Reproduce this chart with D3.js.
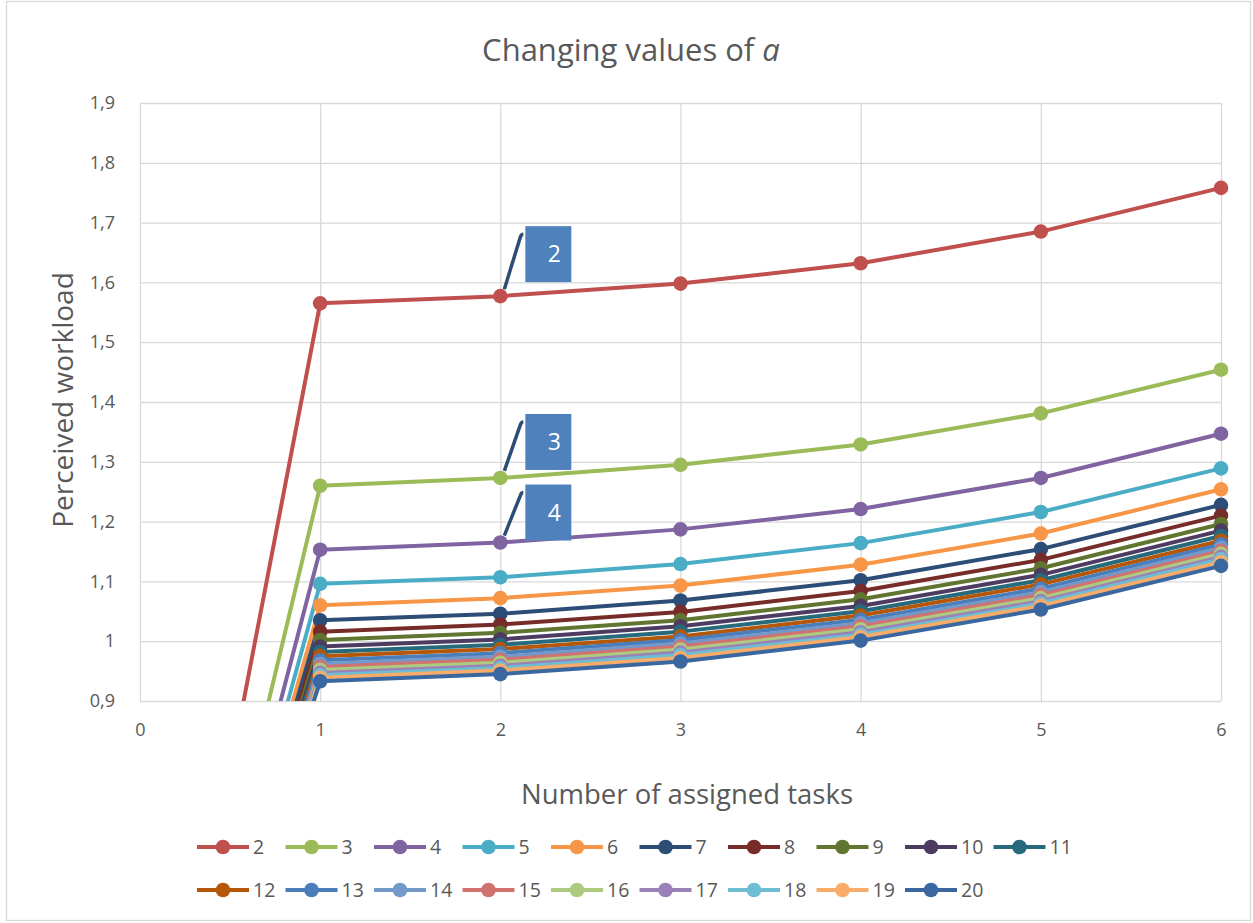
<!DOCTYPE html>
<html>
<head>
<meta charset="utf-8">
<script src="https://cdn.jsdelivr.net/npm/d3@7"></script>
<style>
  body { margin: 0; background: #ffffff; }
  svg text { font-family: "Open Sans", "Noto Sans", sans-serif; }
</style>
</head>
<body>
<svg id="chart" width="1253" height="923"></svg>
<script>
// Number of assigned tasks (x) and perceived workload per value of a
const tasks = [0, 1, 2, 3, 4, 5, 6];
const alphaValues = [2, 3, 4, 5, 6, 7, 8, 9, 10, 11, 12, 13, 14, 15, 16, 17, 18, 19, 20];

const workloadA2  = [0, 1.565, 1.577, 1.598, 1.632, 1.685, 1.758];
const workloadA3  = [0, 1.260, 1.273, 1.295, 1.329, 1.381, 1.454];
const workloadA4  = [0, 1.153, 1.165, 1.187, 1.221, 1.273, 1.347];
const workloadA5  = [0, 1.096, 1.107, 1.129, 1.164, 1.216, 1.289];
const workloadA6  = [0, 1.060, 1.072, 1.093, 1.128, 1.180, 1.254];
const workloadA7  = [0, 1.035, 1.046, 1.068, 1.102, 1.154, 1.228];
const workloadA8  = [0, 1.016, 1.028, 1.049, 1.084, 1.136, 1.210];
const workloadA9  = [0, 1.002, 1.014, 1.035, 1.070, 1.122, 1.196];
const workloadA10 = [0, 0.991, 1.003, 1.025, 1.059, 1.111, 1.185];
const workloadA11 = [0, 0.982, 0.994, 1.016, 1.050, 1.102, 1.176];
const workloadA12 = [0, 0.975, 0.987, 1.008, 1.043, 1.095, 1.168];
const workloadA13 = [0, 0.968, 0.980, 1.002, 1.036, 1.088, 1.162];
const workloadA14 = [0, 0.962, 0.974, 0.996, 1.030, 1.082, 1.156];
const workloadA15 = [0, 0.957, 0.969, 0.991, 1.025, 1.077, 1.151];
const workloadA16 = [0, 0.952, 0.964, 0.986, 1.020, 1.072, 1.146];
const workloadA17 = [0, 0.947, 0.959, 0.981, 1.015, 1.067, 1.141];
const workloadA18 = [0, 0.943, 0.955, 0.977, 1.011, 1.063, 1.137];
const workloadA19 = [0, 0.939, 0.951, 0.972, 1.007, 1.059, 1.132];
const workloadA20 = [0, 0.933, 0.945, 0.966, 1.001, 1.053, 1.126];

const workloadSeries = [
  workloadA2, workloadA3, workloadA4, workloadA5, workloadA6, workloadA7,
  workloadA8, workloadA9, workloadA10, workloadA11, workloadA12, workloadA13,
  workloadA14, workloadA15, workloadA16, workloadA17, workloadA18, workloadA19, workloadA20
];

const seriesColors = [
  "#C0504D", "#9BBB59", "#8064A2", "#4BACC6", "#F79646", "#2C4D75",
  "#772C2A", "#5F7530", "#4D3B62", "#276A7C", "#B65708", "#4A7EBB",
  "#7399CB", "#D07370", "#AECA7E", "#9A82B8", "#6FBDD3", "#F9AB6A", "#3A679F"
];

const xTickValues = [0, 1, 2, 3, 4, 5, 6];
const yTickValues = [0.9, 1.0, 1.1, 1.2, 1.3, 1.4, 1.5, 1.6, 1.7, 1.8, 1.9];

// Data labels shown at x = 2 for the three top series
const labeledAlphas = [2, 3, 4];
const labelTask = 2;

const title = "Changing values of ";
const xTitle = "Number of assigned tasks";
const yTitle = "Perceived workload";

// ---------------------------------------------------------------
const svg = d3.select("#chart");
const W = 1253, H = 923;
const plot = { left: 140, right: 1221, top: 103, bottom: 701 };
const textColor = "#595959";
const gridColor = "#D9D9D9";

const locale = d3.formatLocale({ decimal: ",", thousands: ".", grouping: [3], currency: ["", "€"] });
const fmt = locale.format(".1~f");

const x = d3.scaleLinear().domain([0, 6]).range([plot.left, plot.right]);
const y = d3.scaleLinear().domain([0.9, 1.9]).range([plot.bottom, plot.top]);

// chart frame
svg.append("rect")
  .attr("x", 6.5).attr("y", 1.5).attr("width", W - 9).attr("height", H - 4)
  .attr("fill", "#fff").attr("stroke", gridColor).attr("stroke-width", 1.3);

// title
svg.append("text")
  .attr("x", 631).attr("y", 61)
  .attr("text-anchor", "middle")
  .attr("fill", textColor)
  .attr("font-size", 31)
  .text(title)
  .append("tspan").attr("font-style", "italic").text("a");

// horizontal gridlines
const yAxis = d3.axisLeft(y).tickValues(yTickValues).tickSize(-(plot.right - plot.left)).tickFormat(fmt).tickPadding(25);
const gy = svg.append("g").attr("transform", `translate(${plot.left},0)`).call(yAxis);
gy.select(".domain").remove();
gy.selectAll("line").attr("stroke", gridColor).attr("stroke-width", 1.3);
gy.selectAll("text").attr("fill", textColor).attr("font-size", 18).attr("font-family", "\"Open Sans\", sans-serif");

// vertical gridlines
const xAxis = d3.axisBottom(x).tickValues(xTickValues).tickSize(-(plot.bottom - plot.top)).tickFormat(d3.format("d")).tickPadding(22);
const gx = svg.append("g").attr("transform", `translate(0,${plot.bottom})`).call(xAxis);
gx.select(".domain").remove();
gx.selectAll("line").attr("stroke", gridColor).attr("stroke-width", 1.3);
gx.selectAll("text").attr("fill", textColor).attr("font-size", 18).attr("font-family", "\"Open Sans\", sans-serif");

// axis titles
svg.append("text")
  .attr("x", 687).attr("y", 804)
  .attr("text-anchor", "middle").attr("fill", textColor).attr("font-size", 27.5)
  .text(xTitle);
svg.append("text")
  .attr("transform", "translate(73,400) rotate(-90)")
  .attr("text-anchor", "middle").attr("fill", textColor).attr("font-size", 28)
  .text(yTitle);

// series
svg.append("clipPath").attr("id", "plotClip")
  .append("rect").attr("x", plot.left).attr("y", plot.top)
  .attr("width", plot.right - plot.left + 8).attr("height", plot.bottom - plot.top);

const line = d3.line().x((d, i) => x(tasks[i])).y(d => y(d));
const seriesG = svg.append("g");
workloadSeries.forEach((vals, si) => {
  const g = seriesG.append("g");
  g.append("path")
    .attr("d", line(vals))
    .attr("fill", "none")
    .attr("stroke", seriesColors[si])
    .attr("stroke-width", 4)
    .attr("stroke-linejoin", "round")
    .attr("clip-path", "url(#plotClip)");
  g.selectAll("circle")
    .data(vals.map((v, i) => ({ t: tasks[i], v })).filter(d => d.v >= 0.9 && d.v <= 1.9))
    .join("circle")
    .attr("cx", d => x(d.t)).attr("cy", d => y(d.v))
    .attr("r", 7.3)
    .attr("fill", seriesColors[si]);
});

// data labels with leader lines
const labelTopOffsets = [-70, -64, -58];
labeledAlphas.forEach((a, k) => {
  const vals = workloadSeries[alphaValues.indexOf(a)];
  const px = x(labelTask), py = y(vals[tasks.indexOf(labelTask)]);
  const top = py + labelTopOffsets[k];
  const left = px + 25;
  svg.append("path")
    .attr("d", `M${px + 4},${py - 7} L${px + 20},${top + 11} Q${px + 21},${top + 8} ${px + 23},${top + 8}`)
    .attr("fill", "none").attr("stroke", "#2C4D75").attr("stroke-width", 3.5);
  svg.append("rect")
    .attr("x", left).attr("y", top).attr("width", 46).attr("height", 56)
    .attr("fill", "#4F81BD");
  svg.append("text")
    .attr("x", left + 29).attr("y", top + 28)
    .attr("dy", "0.36em")
    .attr("text-anchor", "middle").attr("fill", "#ffffff").attr("font-size", 23)
    .text(a);
});

// legend
const legendRows = [alphaValues.slice(0, 10), alphaValues.slice(10)];
const legendRowY = [847, 890];
legendRows.forEach((row, r) => {
  row.forEach((a, j) => {
    const si = alphaValues.indexOf(a);
    const lx = 197 + j * 88.5, ly = legendRowY[r];
    const g = svg.append("g");
    g.append("line").attr("x1", lx).attr("x2", lx + 52).attr("y1", ly).attr("y2", ly)
      .attr("stroke", seriesColors[si]).attr("stroke-width", 4);
    g.append("circle").attr("cx", lx + 26).attr("cy", ly).attr("r", 7.3).attr("fill", seriesColors[si]);
    g.append("text").attr("x", lx + 56).attr("y", ly).attr("dy", "0.36em")
      .attr("fill", textColor).attr("font-size", 19.5).text(a);
  });
});
</script>
</body>
</html>
